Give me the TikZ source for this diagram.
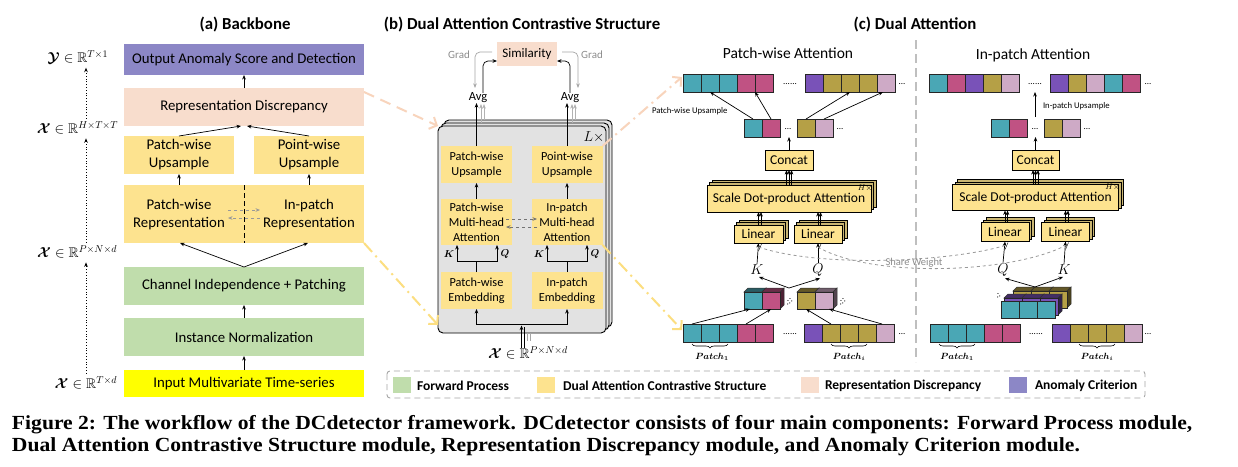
\documentclass[tikz,border=0pt]{standalone}
\usepackage{amsmath,amssymb,bm}
\usepackage{fontspec}
\setmainfont{Carlito}
\newfontfamily\capfont{Liberation Serif}[FakeStretch=1.08]
\usetikzlibrary{arrows.meta,decorations.pathreplacing,calc}
\definecolor{cpur}{RGB}{140,135,198}
\definecolor{cpeach}{RGB}{248,221,205}
\definecolor{cyel}{RGB}{253,227,143}
\definecolor{cgrn}{RGB}{192,221,172}
\definecolor{cbyel}{RGB}{255,255,0}
\definecolor{cgray}{RGB}{226,226,226}
\definecolor{cteal}{RGB}{74,167,181}
\definecolor{cmag}{RGB}{192,82,131}
\definecolor{cviol}{RGB}{121,82,184}
\definecolor{colv}{RGB}{181,160,70}
\definecolor{cpnk}{RGB}{206,170,198}
\definecolor{cpkl}{RGB}{248,212,188}
\definecolor{cylw}{RGB}{252,222,128}
\tikzset{
  base/.style={inner sep=0pt, outer sep=0pt},
  fbox/.style={base, rectangle, align=center, font=\fontsize{14.8}{18}\selectfont},
  bbox/.style={base, rectangle, align=center, fill=cyel, font=\fontsize{12.3}{15}\selectfont},
  ybox/.style={base, rectangle, align=center, fill=cyel, draw=black, line width=0.8pt, font=\fontsize{13.5}{15}\selectfont},
  title/.style={base, font=\bfseries\fontsize{16.8}{19}\selectfont},
  subt/.style={base, font=\fontsize{15.5}{18}\selectfont},
  sq/.style={base, rectangle, draw=black!85, line width=0.8pt, minimum width=18pt, minimum height=18pt},
  arr/.style={-{Stealth[length=4.5pt,width=3.6pt]}, line width=0.7pt},
  garr/.style={arr, draw=black!40},
  darr/.style={-{Stealth[length=4.5pt,width=3.6pt]}, dotted, line width=0.8pt},
  dots/.style={base, font=\fontsize{9}{10}\selectfont},
  small/.style={base, font=\fontsize{8.7}{10}\selectfont},
  ml/.style={base, font=\fontsize{14}{16}\selectfont},
  kq/.style={base, font=\fontsize{14}{15}\selectfont},
  kqs/.style={base, font=\fontsize{10}{12}\selectfont},
  hx/.style={base, font=\fontsize{8}{9}\selectfont},
  pl/.style={base, font=\fontsize{9}{10}\selectfont},
  grad/.style={base, text=black!45, font=\fontsize{11}{12}\selectfont},
  brc/.style={decorate, decoration={brace, amplitude=4pt, mirror}, line width=0.6pt},
  pkdash/.style={draw=cpkl, line width=2pt, dash pattern=on 11pt off 7pt, -{Straight Barb[length=6pt,width=13pt]}},
  pkdashdot/.style={draw=cpkl, line width=2pt, dash pattern=on 12pt off 5pt on 2pt off 5pt, -{Straight Barb[length=6pt,width=13pt]}},
  yldashdot/.style={draw=cylw, line width=2pt, dash pattern=on 12pt off 5pt on 2pt off 5pt, -{Straight Barb[length=6pt,width=13pt]}},
  blk/.style={base, rectangle, rounded corners=5pt, fill=cgray, draw=black, line width=0.9pt, minimum width=168pt, minimum height=207pt},
  sw/.style={draw=black!40, dashed, line width=0.8pt},
  divider/.style={draw=black!25, dash pattern=on 9pt off 5pt, line width=1.3pt},
  lsq/.style={base, rectangle, minimum width=18pt, minimum height=16pt},
  legt/.style={base, font=\bfseries\fontsize{13.5}{15}\selectfont},
  captxt/.style={base, font=\capfont\bfseries\fontsize{20}{22}\selectfont},
}
\newcommand\sqrow[4]{%
  \foreach \c [count=\i] in {#4} {
    \node[sq, fill=\c] (#1-\i) at ({#2+9+18*(\i-1)}, #3) {};
  }}
\newcommand\stk[6]{%
  \foreach \k in {2,1} {
    \draw[fill=cyel!80!black, line width=0.7pt] ({#2-#4/2+2.5*\k},{#3-#5/2-2.5*\k}) rectangle ++(#4,#5);
  }
  \node[ybox, minimum width=#4pt, minimum height=#5pt] (#1) at (#2,#3) {#6};
}
\newcommand\cube[5]{%
  \filldraw[fill=#3!55!black, draw=black!80, line width=0.5pt] (#1,#2) -- ++(4,-4) -- ++(#5,0) -- ++(-4,4) -- cycle;
  \filldraw[fill=#3!40!black, draw=black!80, line width=0.5pt] ({#1+#5},#2) -- ++(4,-4) -- ++(0,17) -- ++(-4,4) -- cycle;
  \node[sq, fill=#3, minimum width=#5pt, minimum height=17pt, anchor=north west] (#4) at (#1,#2) {};
}
\begin{document}
\begin{tikzpicture}[x=1pt,y=-1pt]
\useasboundingbox (0,0) rectangle (1238,466);
\fill[white] (0,0) rectangle (1238,466);

% ================= (a) Backbone =================
\node[title] at (245,25) {(a) Backbone};
\node[fbox, fill=cpur, minimum width=240pt, minimum height=31pt] (out) at (244,59.5) {Output Anomaly Score and Detection};
\node[fbox, fill=cpeach, minimum width=240pt, minimum height=38pt] (rd) at (244,107) {Representation Discrepancy};
\node[fbox, fill=cyel, minimum width=110pt, minimum height=38pt] (pu) at (179,155) {Patch-wise\\Upsample};
\node[fbox, fill=cyel, minimum width=110pt, minimum height=38pt] (ptu) at (309,155) {Point-wise\\Upsample};
\node[fbox, fill=cyel, minimum width=240pt, minimum height=58pt] (rep) at (244,214) {};
\node[fbox] (prep) at (179,215) {Patch-wise\\Representation};
\node[fbox] (irep) at (309,215) {In-patch\\Representation};
\node[fbox, fill=cgrn, minimum width=240pt, minimum height=38pt] (cip) at (244,286) {Channel Independence + Patching};
\node[fbox, fill=cgrn, minimum width=240pt, minimum height=38pt] (inorm) at (244,337) {Instance Normalization};
\node[fbox, fill=cbyel, minimum width=240pt, minimum height=27pt] (inp) at (244,383.5) {Input Multivariate Time-series};

\draw[arr] (rd.north) -- (out.south);
\draw[arr] (pu.north) -- ([xshift=-3pt]rd.south);
\draw[arr] (ptu.north) -- ([xshift=3pt]rd.south);
\draw[arr] (rep.north -| pu) -- (pu.south);
\draw[arr] (rep.north -| ptu) -- (ptu.south);
\draw[line width=0.9pt, dash pattern=on 5pt off 3pt] (rep.north) -- (rep.south);
\coordinate (ga1) at (228,210); \coordinate (ga2) at (260,210);
\coordinate (ga3) at (260,218); \coordinate (ga4) at (228,218);
\draw[garr, dashed] (ga1) -- (ga2);
\draw[garr, dashed] (ga3) -- (ga4);
\draw[arr] (cip.north) -- ([xshift=1pt]rep.south -| prep);
\draw[arr] (cip.north) -- ([xshift=-1pt]rep.south -| irep);
\draw[arr] (inorm.north) -- (cip.south);
\draw[arr] (inp.north) -- (inorm.south);

\node[ml, anchor=east] (ly) at (108,57) {$\bm{\mathcal{Y}}\in\mathbb{R}^{T\times 1}$};
\node[ml, anchor=east] (lx3) at (118,128) {$\bm{\mathcal{X}}\in\mathbb{R}^{H\times T\times T}$};
\node[ml, anchor=east] (lx2) at (117,252) {$\bm{\mathcal{X}}\in\mathbb{R}^{P\times N\times d}$};
\node[ml, anchor=east] (lx1) at (117,383) {$\bm{\mathcal{X}}\in\mathbb{R}^{T\times d}$};
\coordinate (dx) at (86,0);
\draw[darr] ([yshift=3pt]lx1.north -| dx) -- ([yshift=-4pt]lx2.south -| dx);
\draw[darr] ([yshift=3pt]lx2.north -| dx) -- ([yshift=-4pt]lx3.south -| dx);
\draw[darr] ([yshift=3pt]lx3.north -| dx) -- ([yshift=-4pt]ly.south -| dx);

% ================= (b) =================
\node[title] at (522,25) {(b) Dual Attention Contrastive Structure};
\node[blk] (blkb) at (528,223.5) {};
\node[blk] (blkm) at (525,226.5) {};
\node[blk] (blk) at (522,229.5) {};
\node[kq] at (594,137) {$L\times$};
\node[bbox, minimum width=71pt, minimum height=37pt] (bpu) at (476.5,164.5) {Patch-wise\\Upsample};
\node[bbox, minimum width=71pt, minimum height=37pt] (bptu) at (567,164.5) {Point-wise\\Upsample};
\node[bbox, minimum width=71pt, minimum height=46pt] (bpa) at (476.5,222) {Patch-wise\\Multi-head\\Attention};
\node[bbox, minimum width=71pt, minimum height=46pt] (bia) at (567,222) {In-patch\\Multi-head\\Attention};
\node[bbox, minimum width=71pt, minimum height=37pt] (bpe) at (476.5,290.5) {Patch-wise\\Embedding};
\node[bbox, minimum width=71pt, minimum height=37pt] (bie) at (567,290.5) {In-patch\\Embedding};
\draw[arr] (bpa.north) -- (bpu.south);
\draw[arr] (bia.north) -- (bptu.south);
\coordinate (ga5) at (506,219); \coordinate (ga6) at (537,219);
\coordinate (ga7) at (537,227); \coordinate (ga8) at (506,227);
\draw[garr, dashed, draw=black!55] (ga5) -- (ga6);
\draw[garr, dashed, draw=black!55] (ga7) -- (ga8);
% K / Q splits
\draw[line width=0.8pt] (bpe.north) -- ($(bpe.north)+(0,-11)$);
\draw[arr] ($(bpe.north)+(0,-11)$) -| ($(bpa.south)+(-19.5,0)$);
\draw[arr] ($(bpe.north)+(0,-11)$) -| ($(bpa.south)+(20.5,0)$);
\draw[line width=0.8pt] (bie.north) -- ($(bie.north)+(0,-11)$);
\draw[arr] ($(bie.north)+(0,-11)$) -| ($(bia.south)+(-20,0)$);
\draw[arr] ($(bie.north)+(0,-11)$) -| ($(bia.south)+(20,0)$);
\node[kqs] at (449,254) {$\bm{K}$};
\node[kqs] at (505,254) {$\bm{Q}$};
\node[kqs] at (539,254) {$\bm{K}$};
\node[kqs] at (595,254) {$\bm{Q}$};
% bottom input
\coordinate (bj) at (523,324);
\draw[arr] (bj) -| (bpe.south);
\draw[arr] (bj) -| (bie.south);
\draw[line width=0.7pt] (bpe.south |- bj) -- (bie.south |- bj);
\draw[arr] (521.5,348) -- (521.5,325.5);
\draw[line width=0.7pt] (524.5,348) -- (524.5,327);
\draw[line width=0.6pt, black!35] (527.5,333) -- (527.5,341);
\draw[line width=0.6pt, black!35] (530,333) -- (530,341);
\node[ml] at (528,353) {$\bm{\mathcal{X}}\in\mathbb{R}^{P\times N\times d}$};
% Avg and similarity
\node[fbox, fill=cpeach, minimum width=60pt, minimum height=24pt, font=\fontsize{13}{15}\selectfont] (sim) at (527,54) {Similarity};
\node[base, font=\fontsize{12.5}{14}\selectfont] (avg1) at (478,98) {Avg};
\node[base, font=\fontsize{12.5}{14}\selectfont] (avg2) at (570,98) {Avg};
\draw[arr] (bpu.north) -- (bpu.north |- avg1.south);
\draw[arr] (bptu.north) -- (bptu.north |- avg2.south);
\draw[garr, draw=black!30] ([xshift=3pt]avg1.south |- blkm.north) -- ([xshift=3pt,yshift=-1pt]avg1.south);
\draw[garr, draw=black!30] ([xshift=6pt]avg1.south |- blkb.north) -- ([xshift=6pt,yshift=-1pt]avg1.south);
\draw[garr, draw=black!30] ([xshift=2pt]avg2.south |- blkm.north) -- ([xshift=2pt,yshift=-1pt]avg2.south);
\draw[garr, draw=black!30] ([xshift=5pt]avg2.south |- blkb.north) -- ([xshift=5pt,yshift=-1pt]avg2.south);
\draw[arr, rounded corners=5pt] ([xshift=5pt]avg1.north) |- ([yshift=-7pt]sim.west);
\draw[arr, rounded corners=5pt] (avg2.north) |- ([yshift=-7pt]sim.east);
\draw[garr, draw=black!35, rounded corners=5pt] ([xshift=-5pt,yshift=2pt]sim.west) -| ([xshift=-3pt,yshift=5pt]avg1.north);
\draw[garr, draw=black!35, rounded corners=5pt] ([xshift=5pt,yshift=2pt]sim.east) -| ([xshift=8pt,yshift=5pt]avg2.north);
\node[grad] at (459,55) {Grad};
\node[grad] at (592,55) {Grad};

% ================= (c) =================
\node[title] at (915,25) {(c) Dual Attention};
\draw[divider] (916,40) -- (916,362);
\node[subt] at (788,53) {Patch-wise Attention};
\node[subt] at (1033,55) {In-patch Attention};

% ---- patch-wise ----
\sqrow{pt}{683}{83}{cteal,cteal,cteal,cmag,cmag}
\sqrow{ptr}{805}{83}{cviol,colv,colv,colv,cpnk}
\node[dots] at (790,84) {......};
\node[dots] at (902,84) {...};
\sqrow{pm}{744}{128}{cteal,cmag}
\sqrow{pmr}{797}{128}{colv,cpnk}
\node[dots] at (788,129) {...};
\node[dots] at (840,129) {...};
\draw[arr] (pm-1.north) -- (pt-2.south);
\draw[arr] (pm-2.north) -- (pt-4.south east);
\draw[arr] (pmr-1.north) -- (ptr-3.south);
\draw[arr] (pmr-2.north) -- ([xshift=-3pt]ptr-5.south);
\node[small, anchor=west] at (652,111) {Patch-wise Upsample};
\node[ybox, minimum width=48pt, minimum height=20pt] (pcat) at (789,160) {Concat};
\draw[arr] (pcat.north) -- (pcat.north |- pm-1.south);
\stk{psd}{789}{198.5}{164}{27}{Scale Dot-product Attention}
\node[hx] at (865,188.5) {$H\times$};
\foreach \d in {-2.5pt,0pt,2.5pt} \draw[arr, line width=0.5pt] ([xshift=\d]psd.north) -- ([xshift=\d]pcat.south);
\stk{plk}{758.5}{234}{49}{18}{Linear}
\stk{plq}{818}{234}{48}{18}{Linear}
\foreach \d in {0pt,2.5pt} {
  \draw[arr, line width=0.5pt] ([xshift=\d]plk.north) -- ([xshift=\d]plk.north |- psd.south);
  \draw[arr, line width=0.5pt] ([xshift=\d]plq.north) -- ([xshift=\d]plq.north |- psd.south);
}
\node[kq] (pK) at (757,270) {$K$};
\node[kq] (pQ) at (818,270) {$Q$};
\draw[arr] ([yshift=1pt]pK.north) -- (plk.south);
\draw[arr] ([yshift=1pt]pQ.north) -- (plq.south);
\draw[line width=0.4pt] ($(plk.south)+(0,8)$) -- ($(plk.south)+(3,1)$);
\draw[line width=0.4pt] ($(plq.south)+(0,8)$) -- ($(plq.south)+(3,1)$);
\cube{744}{292}{cteal}{pc1}{18}
\cube{762}{292}{cmag}{pc2}{18}
\cube{797}{292}{colv}{pc3}{18}
\cube{815}{292}{cpnk}{pc4}{18}
\node[dots, rotate=35] at (789,302) {.::};
\node[dots, rotate=35] at (842,302) {.::};
\coordinate (pjn) at (789,288);
\draw[arr] (pjn) -- ([xshift=2pt,yshift=-2pt]pK.south);
\draw[arr] (pjn) -- ([xshift=2pt,yshift=-2pt]pQ.south);
\sqrow{pb}{683}{333}{cteal,cteal,cteal,cmag,cmag}
\sqrow{pbr}{804}{333}{cviol,colv,colv,colv,cpnk}
\node[dots] at (790,334) {......};
\node[dots] at (902,334) {...};
\draw[arr] (pb-1.north) -- ([xshift=-3pt]pc1.south);
\draw[arr] (pb-4.north) -- (pc2.south);
\draw[arr] (pbr-2.north) -- (pc3.south);
\draw[arr] ([xshift=-3pt]pbr-5.north) -- ([xshift=5pt]pc4.south);
\draw[brc] ([yshift=-2pt]pb-1.south) -- ([yshift=-2pt]pb-3.south);
\draw[brc] ([yshift=-2pt]pbr-2.south) -- ([yshift=-2pt]pbr-4.south);
\node[pl] at (712,357) {$\bm{Patch_1}$};
\node[pl] at (849,357) {$\bm{Patch_i}$};

% ---- in-patch ----
\sqrow{it}{929}{83}{cteal,cmag,cviol,colv,cpnk}
\sqrow{itr}{1050}{83}{cviol,colv,cpnk,cteal,cmag}
\node[dots] at (1035,84) {......};
\node[dots] at (1148,84) {...};
\sqrow{im}{991}{128}{cteal,cmag}
\sqrow{imr}{1044}{128}{colv,cpnk}
\node[dots] at (1035,129) {...};
\node[dots] at (1087,129) {...};
\coordinate (iup) at (1035,117);
\draw[arr] (iup) -- (iup |- it-1.south);
\node[small, anchor=west] at (1043,106) {In-patch Upsample};
\node[ybox, minimum width=47pt, minimum height=20pt] (icat) at (1035.5,160) {Concat};
\draw[arr] (icat.north) -- (icat.north |- im-1.south);
\stk{isd}{1035.5}{197.5}{166}{26}{Scale Dot-product Attention}
\node[hx] at (1112.5,187.5) {$H\times$};
\foreach \d in {-2.5pt,0pt,2.5pt} \draw[arr, line width=0.5pt] ([xshift=\d]isd.north) -- ([xshift=\d]icat.south);
\stk{ilq}{1005}{232}{48}{19}{Linear}
\stk{ilk}{1065.5}{232}{48}{19}{Linear}
\foreach \d in {0pt,2.5pt} {
  \draw[arr, line width=0.5pt] ([xshift=\d]ilq.north) -- ([xshift=\d]ilq.north |- isd.south);
  \draw[arr, line width=0.5pt] ([xshift=\d]ilk.north) -- ([xshift=\d]ilk.north |- isd.south);
}
\node[kq] (iQ) at (1003,270) {$Q$};
\node[kq] (iK) at (1064,270) {$K$};
\draw[arr] ([yshift=1pt]iQ.north) -- (ilq.south);
\draw[arr] ([yshift=1pt]iK.north) -- (ilk.south);
\draw[line width=0.4pt] ($(ilq.south)+(0,8)$) -- ($(ilq.south)+(3,1)$);
\draw[line width=0.4pt] ($(ilk.south)+(0,8)$) -- ($(ilk.south)+(3,1)$);
% stacked cube layers
\cube{1013}{291}{colv}{ic7}{18}
\cube{1031}{291}{colv}{ic8}{18}
\cube{1049}{291}{colv}{ic9}{18}
\cube{1004}{298}{cviol}{ic4}{18}
\cube{1022}{298}{cviol}{ic5}{18}
\cube{1040}{298}{cviol}{ic6}{18}
\node[sq, fill=cteal, minimum height=17pt, anchor=north west] (ic1) at (1001,301) {};
\node[sq, fill=cteal, minimum height=17pt, anchor=north west] (ic2) at (1019,301) {};
\node[sq, fill=cteal, minimum height=17pt, anchor=north west] (ic3) at (1037,301) {};
\node[dots, rotate=35] at (998,296) {.:};
\coordinate (ijn) at (1035,287);
\draw[arr] (ijn) -- ([xshift=2pt,yshift=-2pt]iQ.south);
\draw[arr] (ijn) -- ([xshift=-1pt,yshift=-2pt]iK.south);
\sqrow{ib}{930}{333}{cteal,cteal,cteal,cmag,cmag}
\sqrow{ibr}{1052}{333}{cviol,colv,colv,colv,cpnk}
\node[dots] at (1036,334) {......};
\node[dots] at (1148,334) {...};
\draw[brc] ([yshift=-2pt]ib-1.south) -- ([yshift=-2pt]ib-3.south);
\draw[brc] ([yshift=-2pt]ibr-2.south) -- ([yshift=-2pt]ibr-4.south);
\node[pl] at (957,357) {$\bm{Patch_1}$};
\node[pl] at (1097,357) {$\bm{Patch_i}$};

% share weight
\draw[sw] ([yshift=-4pt]plk.south) .. controls (820,268) and (950,262) .. ([yshift=-4pt]ilq.south);
\draw[sw] ([yshift=-4pt]plq.south) .. controls (870,278) and (1010,274) .. ([yshift=-4pt]ilk.south);
\node[base, text=black!45, font=\fontsize{10.5}{12}\selectfont] at (914,263) {Share Weight};

% ================= cross-panel dashed arrows =================
\draw[pkdash] ([yshift=-4pt]rd.north east) -- (blk.north west);
\draw[yldashdot] (rep.south east) -- ([yshift=8pt]blk.south west);
\draw[pkdashdot] (bptu.north east) -- ([xshift=-1pt,yshift=-3pt]pt-1.north west);
\draw[yldashdot] (bia.south east) -- ([xshift=-1pt,yshift=-6pt]pb-1.north west);

% ================= legend =================
\draw[draw=black!35, dash pattern=on 6pt off 4pt, line width=0.9pt, rounded corners=3pt] (387,371) rectangle (1145,398);
\node[lsq, fill=cgrn] at (402,385) {};
\node[legt, anchor=west] at (417,386) {Forward Process};
\node[lsq, fill=cyel] at (546,385) {};
\node[legt, anchor=west] at (563,386) {Dual Attention Contrastive Structure};
\node[lsq, fill=cpeach] at (810,385) {};
\node[legt, anchor=west] at (825,386) {Representation Discrepancy};
\node[lsq, fill=cpur] at (1018,385) {};
\node[legt, anchor=west] at (1035,386) {Anomaly Criterion};

% ================= caption =================
\node[captxt, anchor=base west] at (12,429) {Figure 2: The workflow of the DCdetector framework. DCdetector consists of four main components: Forward Process module,};
\node[captxt, anchor=base west] at (12,451) {Dual Attention Contrastive Structure module, Representation Discrepancy module, and Anomaly Criterion module.};
\end{tikzpicture}
\end{document}
